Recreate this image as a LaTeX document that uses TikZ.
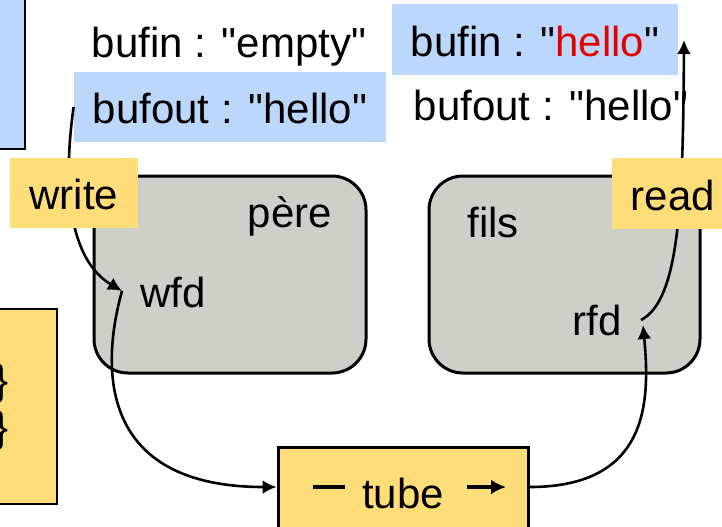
\documentclass[tikz,border=0pt]{standalone}
\usepackage{fontspec}
\setmainfont{Liberation Sans}[Ligatures=TeXOff]
\usetikzlibrary{arrows.meta}
\definecolor{bufblue}{RGB}{187,216,252}
\definecolor{tagyellow}{RGB}{255,222,122}
\definecolor{procgrey}{RGB}{205,207,200}
\definecolor{hellored}{RGB}{226,0,0}
\begin{document}
\begin{tikzpicture}[x=0.5pt,y=-0.5pt,
	every node/.style={font=\fontsize{21}{25}\selectfont,inner sep=0pt},
	bufbox/.style={fill=bufblue,text height=21pt,text depth=4.2pt},
	tagbox/.style={fill=tagyellow,text height=21pt,text depth=4.2pt},
	proc/.style={draw,line width=1.5pt,fill=procgrey,rounded corners=17pt},
	flow/.style={line width=1.3pt,-{Latex[length=7pt,width=7pt]}}]
	\useasboundingbox (0,0) rectangle (722,526);
	
	% boxes cut by the frame
	\draw[line width=1.3pt,fill=bufblue] (-20,-20) rectangle (25,149);
	\draw[line width=1.2pt,fill=tagyellow] (-20,309) rectangle (57,504);
	\node[anchor=base east] (braceone) at (9,394) {\}};
	\node[anchor=base east] (bracetwo) at (9,441) {\}};
	
	% the two processes
	\draw[proc] (94,176) rectangle (366,373);
	\draw[proc] (429,176) rectangle (700,373);
	\node[anchor=base] (pere) at (290,227) {père};
	\node[anchor=base] (fils) at (493,237) {fils};
	\node[anchor=base] (wfd) at (173,307) {wfd};
	\node[anchor=base] (rfd) at (597,335) {rfd};
	
	% buffers
	\node[anchor=base] (bufinP) at (229,57) {bufin : "empty"};
	\node[bufbox,minimum width=156pt,minimum height=35pt] (bufoutP) at (230,107) {bufout : "hello"};
	\node[bufbox,minimum width=143pt,minimum height=35.5pt] (bufinF) at (535,39.5) {bufin : "\textcolor{hellored}{hello}"};
	\node[anchor=base] (bufoutF) at (551,120) {bufout : "hello"};
	
	% the pipe
	\node[tagbox,draw,line width=1.5pt,minimum width=125pt,minimum height=45pt] (tube) at (403,492) {tube};
	\draw[line width=2pt] (313,487) -- (345,487);
	\draw[line width=2pt,-{Latex[length=7.5pt,width=7.5pt]}] (467,487) -- (506,487);
	
	\coordinate (wfdin) at (122,291);
	\coordinate (rfdin) at (643,325);
	\coordinate (rfdout) at (641,320);
	\coordinate (bufinend) at (684,40);
	
	\draw[flow] (bufoutP.west) .. controls (62,190) and (70,260) .. (wfdin);
	\draw[flow] (wfdin) .. controls (100,370) and (100,487) .. ([yshift=2.5pt]tube.west);
	\draw[flow] ([yshift=2.5pt]tube.east) .. controls (650,487) and (650,400) .. (rfdin);
	\draw[flow] (rfdout) .. controls (680,300) and (683,200) .. (bufinend);
	
	% system calls
	\node[tagbox,minimum width=64pt,minimum height=35pt] (write) at (74,193) {write};
	\node[tagbox,minimum width=61pt,minimum height=35.5pt] (read) at (673,193.5) {read};
\end{tikzpicture}
\end{document}
